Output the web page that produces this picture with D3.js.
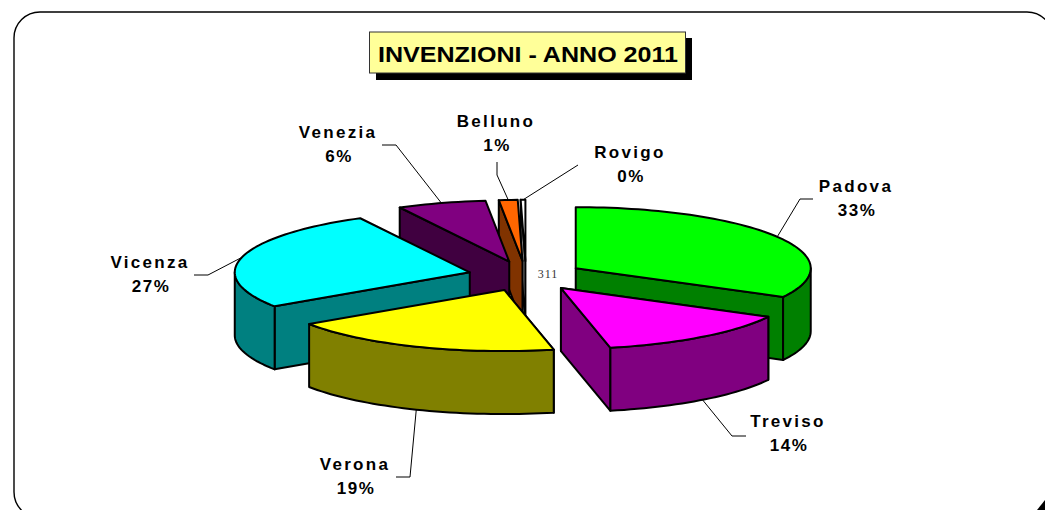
<!DOCTYPE html>
<html><head><meta charset="utf-8">
<style>html,body{margin:0;padding:0;background:#fff;overflow:hidden}svg{display:block}</style>
<script src="https://cdn.jsdelivr.net/npm/d3@7/dist/d3.min.js"></script>
</head><body><svg id="c" width="1045" height="510"></svg>
<script>
const titleText = "INVENZIONI - ANNO 2011";
const categories = ["Padova","Treviso","Verona","Vicenza","Venezia","Belluno","Rovigo"];
const values = [102,43,59,83,19,4,1];
const percentLabels = ["33%","14%","19%","27%","6%","1%","0%"];
const totalLabel = "311";
const topColors = ["#00ff00","#ff00ff","#ffff00","#00ffff","#800080","#ff6600","#ffffff"];
const sideColors = ["#008000","#800080","#808000","#008080","#400040","#803300","#808080"];
// label layout: [label centre x, name baseline y, elbow x, elbow y, tail x, tail y]
const labelLayout = [
 [855,192,800,199,813,199],[787,427,732,436,746,436],[354,470,410,477,396,477],
 [149,268,208,275,194,275],[337,138,396,145,382,145],[495,127,497,175,497,162],[629,158,578,165,578,165]];
const paintOrder = [6,5,0,4,3,2,1];

const cx=526, cy=276, rx=235, squash=0.26, depth=63, explode=58;
const svg=d3.select("#c");
const pie=d3.pie().value(d=>d).sort(null)(values);
const line=d3.line();
const ptr=(a,r,o)=>[o[0]+r*Math.sin(a), o[1]-r*squash*Math.cos(a)];
const down=p=>[p[0],p[1]+depth];
const arcs=pie.map(d=>{const mid=(d.startAngle+d.endAngle)/2;
  return {...d,mid,o:[cx+explode*Math.sin(mid),cy-explode*squash*Math.cos(mid)]};});
const sample=(a0,a1,o)=>{const n=Math.max(2,Math.ceil(Math.abs(a1-a0)/0.03));
  return d3.range(n+1).map(i=>ptr(a0+(a1-a0)*i/n,rx,o));};

// frame
svg.append("rect").attr("x",14).attr("y",12).attr("width",1039).attr("height",506).attr("rx",26)
  .attr("fill","#fff").attr("stroke","#000").attr("stroke-width",1.4);
svg.append("path").attr("d","M1037,510L1045,500L1045,510Z").attr("fill","#000");

// slices
const stroke={stroke:"#000","stroke-width":2,"stroke-linejoin":"round"};
function poly(g,pts,fill){const p=g.append("path").attr("d",line(pts)+"Z").attr("fill",fill);
  Object.entries(stroke).forEach(([k,v])=>p.attr(k,v));}
const PI=Math.PI;
paintOrder.forEach(i=>{
  const s=arcs[i], g=svg.append("g").attr("class","slice");
  const a=s.startAngle,b=s.endAngle,o=s.o;
  if(Math.cos(a)<0||a>PI) poly(g,[o,ptr(a,rx,o),down(ptr(a,rx,o)),down(o)],sideColors[i]);
  if(b<PI) poly(g,[o,ptr(b,rx,o),down(ptr(b,rx,o)),down(o)],sideColors[i]);
  const w0=Math.max(a,PI/2),w1=Math.min(b,3*PI/2);
  if(w1>w0){const e=sample(w0,w1,o);
    poly(g,e.concat(e.slice().reverse().map(down)),sideColors[i]);}
  poly(g,[o].concat(sample(a,b,o)),topColors[i]);
});

// leaders and labels
arcs.forEach((s,i)=>{
  const L=labelLayout[i];
  const front=Math.cos(s.mid)<-0.2;
  let anchor=ptr(s.mid,rx,s.o); if(front) anchor=down(anchor);
  svg.append("path").attr("d",line([anchor,[L[2],L[3]],[L[4],L[5]]]))
    .attr("fill","none").attr("stroke","#000").attr("stroke-width",1);
  svg.append("text").attr("x",L[0]+1).attr("y",L[1]).attr("text-anchor","middle")
    .attr("font-family","'Liberation Sans',Arial,sans-serif").attr("font-weight","bold")
    .attr("font-size",17).attr("letter-spacing",2.3).attr("fill","#000").text(categories[i]);
  svg.append("text").attr("x",L[0]+2).attr("y",L[1]+24).attr("text-anchor","middle")
    .attr("font-family","'Liberation Sans',Arial,sans-serif").attr("font-weight","bold")
    .attr("font-size",17).attr("letter-spacing",1.5).attr("fill","#000").text(percentLabels[i]);
});
svg.append("text").attr("x",548).attr("y",278).attr("text-anchor","middle")
  .attr("font-family","'Liberation Serif',serif").attr("font-size",12).attr("letter-spacing",1).attr("fill","#333").text(totalLabel);

// title
svg.append("rect").attr("x",376).attr("y",38).attr("width",316).attr("height",42).attr("fill","#000");
svg.append("rect").attr("x",369.5).attr("y",32).attr("width",316).attr("height",41).attr("fill","#ffff99").attr("stroke","#333").attr("stroke-width",1);
svg.append("text").attr("x",528).attr("y",62).attr("text-anchor","middle")
  .attr("font-family","'Liberation Sans',Arial,sans-serif").attr("font-weight","bold").attr("font-size",22.5)
  .attr("textLength",300).attr("lengthAdjust","spacingAndGlyphs").attr("fill","#000").text(titleText);
</script></body></html>
